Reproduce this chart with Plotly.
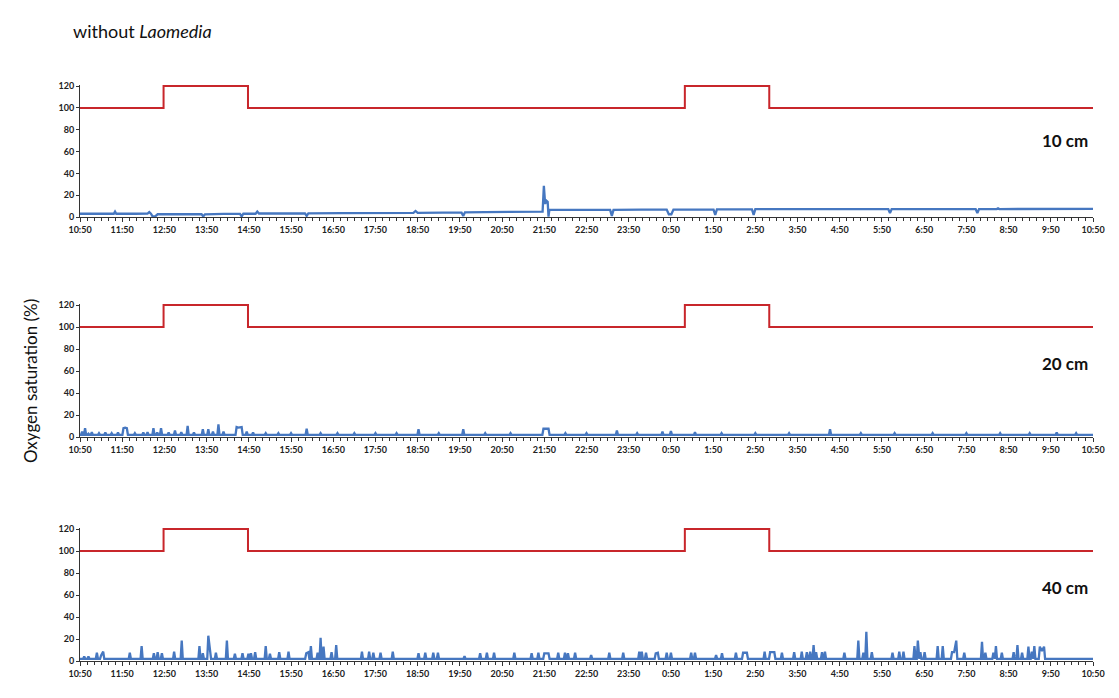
import plotly.graph_objects as go

# ---------------- data ----------------
hour_labels = ["10:50", "11:50", "12:50", "13:50", "14:50", "15:50", "16:50", "17:50",
               "18:50", "19:50", "20:50", "21:50", "22:50", "23:50", "0:50", "1:50",
               "2:50", "3:50", "4:50", "5:50", "6:50", "7:50", "8:50", "9:50", "10:50"]
hour_pos = list(range(25))  # hours since 10:50

# light regime (red line), hours since 10:50
light_t = [0, 1.98, 3.98, 14.33, 16.33, 24]
light_v = [100, 120, 100, 120, 100, 100]

# 10 cm oxygen saturation
t_10 = [0, 0.4, 0.8, 0.83, 0.86, 1.3, 1.6, 1.64, 1.68, 1.72, 1.78, 1.84, 2.3, 2.88, 2.92, 2.96,
        3.4, 3.79, 3.83, 3.87, 4.16, 4.20, 4.24, 4.8, 5.33, 5.37, 5.41, 6.2, 7.0, 7.9, 7.95, 8.0,
        8.6, 9.04, 9.08, 9.12, 9.6, 10.3, 10.96, 10.99, 11.02, 11.05, 11.08, 11.10, 11.12, 11.15,
        11.6, 12.56, 12.60, 12.64, 13.3, 13.9, 13.95, 14.01, 14.06, 14.5, 15.01, 15.05, 15.09,
        15.5, 15.92, 15.96, 16.00, 16.5, 17.5, 18.6, 19.15, 19.19, 19.23, 20.2, 21.22, 21.26,
        21.30, 21.72, 21.75, 21.78, 22.6, 23.4, 24]
o2_10 = [3, 2.8, 3, 5, 3, 3, 3.2, 4.5, 3, 0.5, 0.5, 2.5, 2.5, 2.5, 0.5, 2.5,
         2.8, 2.8, 0.5, 3, 3, 5, 3.2, 3.2, 3.3, 1, 3.3, 3.5, 3.6, 3.8, 5.5, 3.8,
         4, 4, 1, 4.3, 4.5, 4.8, 5, 28.5, 12, 15, 14, 0.3, 6.5, 6.5,
         6.5, 6.5, 1, 6.5, 6.8, 6.8, 2.5, 2.5, 6.8, 6.8, 6.8, 2, 7,
         7, 7, 2, 7.2, 7.2, 7.3, 7.3, 7.3, 3.5, 7.3, 7.3, 7.3, 3.5,
         7.3, 7.3, 8, 7.3, 7.3, 7.4, 7.4]

# 20 cm: baseline and peaks
base_20 = 2
t_20 = [0.05, 0.12, 0.20, 0.28, 0.45, 0.60, 0.75, 0.90, 1.03, 1.07, 1.11, 1.30, 1.50, 1.60,
        1.74, 1.83, 1.92, 2.10, 2.25, 2.40, 2.55, 2.70, 2.91, 3.04, 3.15, 3.28, 3.40, 3.71,
        3.75, 3.79, 3.83, 3.95, 4.10, 4.40, 4.70, 5.00, 5.37, 5.70, 6.10, 6.50, 7.00, 7.50,
        8.02, 8.50, 9.08, 9.60, 10.20, 10.98, 11.02, 11.06, 11.10, 11.50, 12.00, 12.72,
        13.20, 13.80, 14.00, 14.57, 15.20, 16.00, 16.80, 17.77, 18.50, 19.30, 20.20, 21.00,
        21.80, 22.50, 23.14, 23.60]
o2_20 = [5, 8, 3, 4.5, 3.5, 4, 3.5, 4, 8, 8.5, 8, 3.5, 4, 4.5,
         8, 4, 8, 4, 6, 4.5, 10, 4, 7, 7, 5, 11.5, 5, 9,
         8.5, 8.5, 9, 5, 4, 3.5, 3.5, 3.5, 7.5, 3.5, 3.5, 3.5, 3.5, 3.5,
         7, 3.5, 7, 3.5, 3.5, 7.5, 7.5, 7.5, 7.5, 3.5, 3.5, 6,
         3.5, 5, 5.5, 4.5, 3.5, 3.5, 3.5, 7, 3.5, 3.5, 3.5, 3.5,
         3.5, 3.5, 4, 3.5]

# 40 cm: baseline and peaks
base_40 = 2
t_40 = [0.10, 0.20, 0.40, 0.50, 0.55, 1.18, 1.46, 1.75, 1.84, 1.94, 2.23, 2.41, 2.83, 2.91,
        3.04, 3.08, 3.22, 3.48, 3.67, 3.85, 3.99, 4.05, 4.15, 4.40, 4.50, 4.72, 4.94, 5.36,
        5.41, 5.47, 5.63, 5.70, 5.77, 5.96, 6.07, 6.68, 6.85, 6.95, 7.12, 7.41, 8.02, 8.18,
        8.37, 8.48, 9.11, 9.48, 9.64, 9.81, 10.29, 10.70, 10.86, 11.00, 11.05, 11.10, 11.33,
        11.49, 11.56, 11.73, 12.11, 12.54, 12.87, 13.25, 13.31, 13.41, 13.64, 13.69, 13.90,
        14.00, 14.48, 14.57, 15.07, 15.21, 15.54, 15.71, 15.76, 15.80, 16.22, 16.35, 16.40,
        16.45, 16.63, 16.92, 17.10, 17.22, 17.30, 17.38, 17.44, 17.58, 17.65, 18.11, 18.44,
        18.56, 18.63, 18.76, 19.25, 19.41, 19.51, 19.77, 19.85, 19.91, 20.01, 20.32, 20.44,
        20.66, 20.71, 20.76, 20.95, 21.37, 21.45, 21.64, 21.70, 21.84, 22.12, 22.21, 22.32,
        22.47, 22.55, 22.61, 22.74, 22.79, 22.84]
o2_40 = [4, 4, 7.5, 5, 8.5, 7.5, 13.5, 7, 8, 7, 8.5, 18.5, 13.5, 7,
         23, 8.5, 7.5, 18.5, 6.5, 7, 6.5, 7, 8, 13.5, 6.5, 8, 8.5, 7,
         8, 13.5, 7.5, 21, 13, 8, 14.5, 8.5, 8.5, 7.5, 7.5, 8.5, 7, 7.5,
         7.5, 7.5, 4.5, 7, 7.5, 7.5, 7.5, 7, 7.5, 7, 7, 7, 7.5,
         7.5, 7, 7.5, 5.5, 7.5, 7.5, 8.5, 8.5, 7.5, 7, 7.5, 7.5,
         7.5, 7.5, 7.5, 5.5, 7, 7.5, 7.5, 7.5, 7.5, 8.5, 8, 8,
         8, 7.5, 8, 8.5, 8, 8.5, 14.5, 8, 8, 8.5, 7.5, 18.5,
         7.5, 26.5, 8, 7.5, 8.5, 8.5, 13.5, 18.5, 8, 8, 13.5, 13.5,
         8, 8, 18.5, 7.5, 17.5, 7.5, 7.5, 13.5, 7.5, 8, 14.5, 7.5,
         13, 8.5, 13.5, 13, 9, 13]

depth_labels = ["10 cm", "20 cm", "40 cm"]


def peaks_to_line(times, vals, base, hw=0.025, end=24):
    xs, ys = [0], [base]
    prev = None
    for i, (t, v) in enumerate(zip(times, vals)):
        if prev is None or t - prev > 2 * hw + 1e-9:
            xs.append(t - hw); ys.append(base)
        xs.append(t); ys.append(v)
        nxt = times[i + 1] if i + 1 < len(times) else end
        if nxt - t > 2 * hw + 1e-9:
            xs.append(t + hw); ys.append(base)
        prev = t
    xs.append(end); ys.append(base)
    return xs, ys


x20, y20 = peaks_to_line(t_20, o2_20, base_20)
x40, y40 = peaks_to_line(t_40, o2_40, base_40)
blue_series = [(t_10, o2_10), (x20, y20), (x40, y40)]

# ---------------- figure ----------------
W, H = 1119, 698
RED = "#c8262b"
BLUE = "#4677c0"
FONT = "Lato"

panel_px = [(86, 217), (305, 437), (529, 661)]  # top, bottom pixel rows
x_dom = [80 / W, 1093 / W]

fig = go.Figure()
layout = dict(
    width=W, height=H, margin=dict(l=0, r=0, t=0, b=0, autoexpand=False),
    paper_bgcolor="white", plot_bgcolor="white", showlegend=False,
)

for i, (top, bot) in enumerate(panel_px):
    sfx = "" if i == 0 else str(i + 1)
    xa, ya = "x" + sfx, "y" + sfx
    bx, by = blue_series[i]
    fig.add_trace(go.Scatter(x=light_t, y=light_v, mode="lines", line_shape="hv",
                             line=dict(color=RED, width=2), xaxis=xa, yaxis=ya,
                             hoverinfo="skip"))
    fig.add_trace(go.Scatter(x=bx, y=by, mode="lines",
                             line=dict(color=BLUE, width=2.3), xaxis=xa, yaxis=ya,
                             hoverinfo="skip"))
    layout["xaxis" + sfx] = dict(
        domain=x_dom, anchor=ya, range=[0, 24], automargin=False,
        tickmode="array", tickvals=hour_pos, ticktext=hour_labels,
        ticks="outside", ticklen=4, tickwidth=1, tickcolor="#333",
        showline=True, linecolor="#333", linewidth=1,
        showgrid=False, zeroline=False,
        tickfont=dict(family=FONT, size=9, color="#222", weight="bold"),
        minor=dict(tickmode="linear", tick0=0, dtick=1 / 6, ticks="outside",
                   ticklen=3, tickcolor="#333", showgrid=False),
    )
    layout["yaxis" + sfx] = dict(
        domain=[1 - bot / H, 1 - (top - 1) / H], anchor=xa, range=[0, 121], automargin=False,
        tickmode="array", tickvals=[0, 20, 40, 60, 80, 100, 120],
        ticks="outside", ticklen=3, tickcolor="#333",
        showline=True, linecolor="#333", linewidth=1,
        showgrid=False, zeroline=False,
        tickfont=dict(family=FONT, size=9, color="#222", weight="bold"),
    )

annotations = [
    dict(text="without <i>Laomedia</i>", x=71 / W, y=1 - 31 / H, xref="paper", yref="paper",
         xanchor="left", yanchor="middle", showarrow=False,
         font=dict(family=FONT, size=18, color="#111")),
    dict(text="Oxygen saturation (%)", x=30 / W, y=1 - 381 / H, xref="paper", yref="paper",
         textangle=-90, xanchor="center", yanchor="middle", showarrow=False,
         font=dict(family=FONT, size=17, color="#111")),
]
for i, lbl in enumerate(depth_labels):
    ypix = [140, 363, 587][i]
    annotations.append(dict(text=lbl, x=1090 / W, y=1 - ypix / H, xref="paper", yref="paper",
                            xanchor="right", yanchor="middle", showarrow=False,
                            font=dict(family=FONT, size=17, color="#111", weight="bold")))
layout["annotations"] = annotations

fig.update_layout(**layout)
fig.write_html("out.html")
